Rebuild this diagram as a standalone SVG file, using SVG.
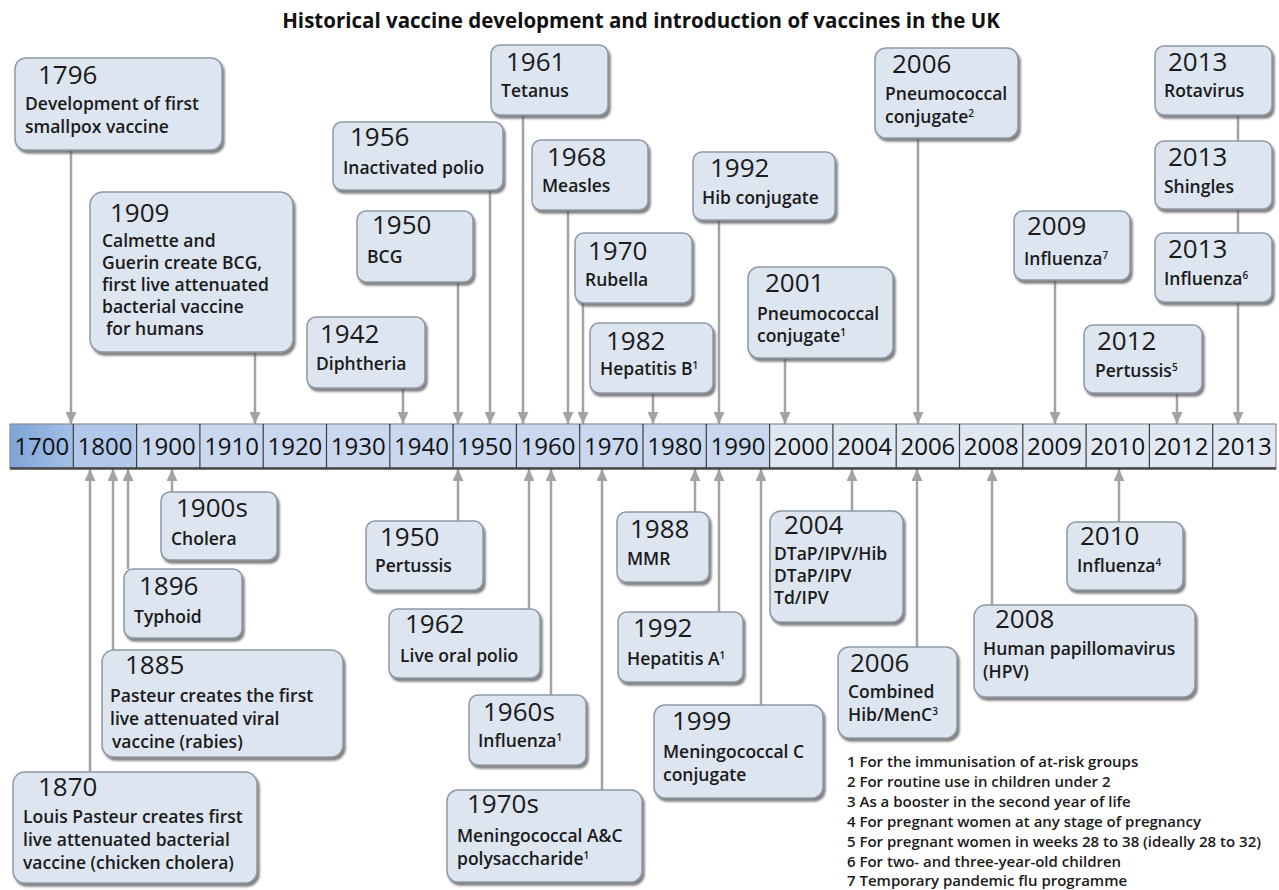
<svg xmlns="http://www.w3.org/2000/svg" width="1279" height="890" viewBox="0 0 1279 890">
<defs>
<filter id="sh" x="-10%" y="-10%" width="125%" height="130%">
<feDropShadow dx="2" dy="3" stdDeviation="1.2" flood-color="#555" flood-opacity="0.75"/>
</filter>
<marker id="ah" markerUnits="userSpaceOnUse" viewBox="0 0 12 11" markerWidth="12" markerHeight="11" refX="12" refY="5.5" orient="auto">
<path d="M0,0 L12,5.5 L0,11 z" fill="#a3a3a3"/>
</marker>
<linearGradient id="g1700" x1="0" y1="0" x2="1" y2="0">
<stop offset="0" stop-color="#7ea5d8"/>
<stop offset="1" stop-color="#a2bfe6"/>
</linearGradient>
</defs>
<style>
.bx{fill:#dde5f0;stroke:#8f98a6;stroke-width:1.5;filter:url(#sh)}
.yr{font-family:"Open Sans","Liberation Sans",sans-serif;font-size:26px;font-weight:400;fill:#1a1a1a}
.tx{font-family:"Open Sans","Liberation Sans",sans-serif;font-size:17.5px;font-weight:600;fill:#1a1a1a}
.sup{font-size:10px}
.title{font-family:"Open Sans","Liberation Sans",sans-serif;font-size:20.5px;font-weight:700;fill:#111}
.lg{font-family:"Open Sans","Liberation Sans",sans-serif;font-size:15px;font-weight:600;fill:#1a1a1a}
.cl{font-family:"Open Sans","Liberation Sans",sans-serif;font-size:24px;font-weight:400;fill:#111;text-anchor:middle}
.conn line{stroke:#a3a3a3;stroke-width:2.5}
.conn .a{marker-end:url(#ah)}
.c0{fill:url(#g1700)}
.c1{fill:#b1c8ea}
.c2{fill:#c9d7ef}
.c3{fill:#dfe7f3}
.dv{stroke:#3c3c3c;stroke-width:1.2}
</style>
<rect width="1279" height="890" fill="#ffffff"/>
<text class="title" x="641" y="28" text-anchor="middle">Historical vaccine development and introduction of vaccines in the UK</text>

<g id="connectors" class="conn">
<line class="a" x1="71" y1="150" x2="71" y2="424"/>
<line class="a" x1="255" y1="352" x2="255" y2="424"/>
<line class="a" x1="403" y1="388" x2="403" y2="424"/>
<line class="a" x1="458" y1="282" x2="458" y2="424"/>
<line class="a" x1="490" y1="190" x2="490" y2="424"/>
<line class="a" x1="523" y1="115" x2="523" y2="424"/>
<line class="a" x1="568" y1="210" x2="568" y2="424"/>
<line class="a" x1="583" y1="303" x2="583" y2="424"/>
<line class="a" x1="653" y1="393" x2="653" y2="424"/>
<line class="a" x1="719" y1="220" x2="719" y2="424"/>
<line class="a" x1="785" y1="358" x2="785" y2="424"/>
<line class="a" x1="918" y1="138" x2="918" y2="424"/>
<line class="a" x1="1055" y1="280" x2="1055" y2="424"/>
<line class="a" x1="1177" y1="393" x2="1177" y2="424"/>
<line x1="1238" y1="115" x2="1238" y2="141"/>
<line x1="1238" y1="209" x2="1238" y2="233"/>
<line class="a" x1="1238" y1="302" x2="1238" y2="424"/>
<line class="a" x1="90" y1="772" x2="90" y2="469"/>
<line class="a" x1="113" y1="650" x2="113" y2="469"/>
<line class="a" x1="128" y1="569" x2="128" y2="469"/>
<line class="a" x1="172" y1="492" x2="172" y2="469"/>
<line class="a" x1="458" y1="521" x2="458" y2="469"/>
<line class="a" x1="529" y1="609" x2="529" y2="469"/>
<line class="a" x1="551" y1="695" x2="551" y2="469"/>
<line class="a" x1="602" y1="790" x2="602" y2="469"/>
<line class="a" x1="695" y1="512" x2="695" y2="469"/>
<line class="a" x1="719" y1="612" x2="719" y2="469"/>
<line class="a" x1="761" y1="705" x2="761" y2="469"/>
<line class="a" x1="852" y1="511" x2="852" y2="469"/>
<line class="a" x1="917" y1="647" x2="917" y2="469"/>
<line class="a" x1="992" y1="605" x2="992" y2="469"/>
<line class="a" x1="1119" y1="522" x2="1119" y2="469"/>
</g>

<g id="timeline">
<rect class="c0" x="10" y="424" width="63.3" height="44"/>
<rect class="c1" x="73.3" y="424" width="63.3" height="44"/>
<rect class="c2" x="136.6" y="424" width="633" height="44"/>
<rect class="c3" x="769.6" y="424" width="506.4" height="44"/>
<rect x="10" y="424" width="1266" height="44" fill="none" stroke="#8c8c8c" stroke-width="1.2"/>
<line x1="10" y1="468.5" x2="1276" y2="468.5" stroke="#474747" stroke-width="2.5"/>
<g class="dv">
<line x1="73.3" y1="424" x2="73.3" y2="468"/>
<line x1="136.6" y1="424" x2="136.6" y2="468"/>
<line x1="199.9" y1="424" x2="199.9" y2="468"/>
<line x1="263.2" y1="424" x2="263.2" y2="468"/>
<line x1="326.5" y1="424" x2="326.5" y2="468"/>
<line x1="389.8" y1="424" x2="389.8" y2="468"/>
<line x1="453.1" y1="424" x2="453.1" y2="468"/>
<line x1="516.4" y1="424" x2="516.4" y2="468"/>
<line x1="579.7" y1="424" x2="579.7" y2="468"/>
<line x1="643" y1="424" x2="643" y2="468"/>
<line x1="706.3" y1="424" x2="706.3" y2="468"/>
<line x1="769.6" y1="424" x2="769.6" y2="468"/>
<line x1="832.9" y1="424" x2="832.9" y2="468"/>
<line x1="896.2" y1="424" x2="896.2" y2="468"/>
<line x1="959.5" y1="424" x2="959.5" y2="468"/>
<line x1="1022.8" y1="424" x2="1022.8" y2="468"/>
<line x1="1086.1" y1="424" x2="1086.1" y2="468"/>
<line x1="1149.4" y1="424" x2="1149.4" y2="468"/>
<line x1="1212.7" y1="424" x2="1212.7" y2="468"/>
</g>
<text class="cl" x="41.7" y="455">1700</text>
<text class="cl" x="105" y="455">1800</text>
<text class="cl" x="168.3" y="455">1900</text>
<text class="cl" x="231.6" y="455">1910</text>
<text class="cl" x="294.9" y="455">1920</text>
<text class="cl" x="358.2" y="455">1930</text>
<text class="cl" x="421.5" y="455">1940</text>
<text class="cl" x="484.8" y="455">1950</text>
<text class="cl" x="548.1" y="455">1960</text>
<text class="cl" x="611.4" y="455">1970</text>
<text class="cl" x="674.7" y="455">1980</text>
<text class="cl" x="738" y="455">1990</text>
<text class="cl" x="801.3" y="455">2000</text>
<text class="cl" x="864.6" y="455">2004</text>
<text class="cl" x="927.9" y="455">2006</text>
<text class="cl" x="991.2" y="455">2008</text>
<text class="cl" x="1054.5" y="455">2009</text>
<text class="cl" x="1117.8" y="455">2010</text>
<text class="cl" x="1181.1" y="455">2012</text>
<text class="cl" x="1244.4" y="455">2013</text>
</g>

<g id="n1796"><rect class="bx" x="15" y="58" width="207" height="92" rx="11"/><text class="yr" x="38" y="84">1796</text><text class="tx" x="25" y="110">Development of first</text><text class="tx" x="25" y="133">smallpox vaccine</text></g>
<g id="n1909"><rect class="bx" x="90" y="192" width="203" height="160" rx="13"/><text class="yr" x="110" y="222">1909</text><text class="tx" x="102" y="247">Calmette and</text><text class="tx" x="102" y="269">Guerin create BCG,</text><text class="tx" x="102" y="291">first live attenuated</text><text class="tx" x="102" y="313">bacterial vaccine</text><text class="tx" x="106" y="335">for humans</text></g>
<g id="n1942"><rect class="bx" x="307" y="317" width="118" height="71" rx="9"/><text class="yr" x="320" y="343">1942</text><text class="tx" x="316" y="370">Diphtheria</text></g>
<g id="n1950bcg"><rect class="bx" x="357" y="211" width="116" height="71" rx="9"/><text class="yr" x="372" y="234">1950</text><text class="tx" x="367" y="263">BCG</text></g>
<g id="n1956"><rect class="bx" x="333" y="122" width="170" height="68" rx="9"/><text class="yr" x="350" y="146">1956</text><text class="tx" x="343" y="174">Inactivated polio</text></g>
<g id="n1961"><rect class="bx" x="491" y="45" width="117" height="70" rx="9"/><text class="yr" x="506" y="71">1961</text><text class="tx" x="501" y="97">Tetanus</text></g>
<g id="n1968"><rect class="bx" x="532" y="140" width="116" height="70" rx="9"/><text class="yr" x="547" y="166">1968</text><text class="tx" x="542" y="192">Measles</text></g>
<g id="n1970"><rect class="bx" x="575" y="233" width="117" height="70" rx="9"/><text class="yr" x="588" y="260">1970</text><text class="tx" x="585" y="286">Rubella</text></g>
<g id="n1982"><rect class="bx" x="590" y="323" width="123" height="70" rx="9"/><text class="yr" x="606" y="350">1982</text><text class="tx" x="600" y="375">Hepatitis B<tspan class="sup" dy="-6">1</tspan></text></g>
<g id="n1992hib"><rect class="bx" x="693" y="152" width="142" height="68" rx="9"/><text class="yr" x="710" y="177">1992</text><text class="tx" x="702" y="204">Hib conjugate</text></g>
<g id="n2001"><rect class="bx" x="748" y="267" width="145" height="91" rx="11"/><text class="yr" x="765" y="292">2001</text><text class="tx" x="757" y="320">Pneumococcal</text><text class="tx" x="757" y="342">conjugate<tspan class="sup" dy="-6">1</tspan></text></g>
<g id="n2006pcv"><rect class="bx" x="875" y="48" width="143" height="90" rx="11"/><text class="yr" x="892" y="73">2006</text><text class="tx" x="885" y="100">Pneumococcal</text><text class="tx" x="885" y="123">conjugate<tspan class="sup" dy="-6">2</tspan></text></g>
<g id="n2013rota"><rect class="bx" x="1155" y="46" width="117" height="69" rx="9"/><text class="yr" x="1168" y="71">2013</text><text class="tx" x="1164" y="97">Rotavirus</text></g>
<g id="n2013shingles"><rect class="bx" x="1155" y="141" width="117" height="68" rx="9"/><text class="yr" x="1168" y="166">2013</text><text class="tx" x="1164" y="193">Shingles</text></g>
<g id="n2013flu"><rect class="bx" x="1155" y="233" width="117" height="69" rx="9"/><text class="yr" x="1168" y="258">2013</text><text class="tx" x="1164" y="285">Influenza<tspan class="sup" dy="-6">6</tspan></text></g>
<g id="n2009"><rect class="bx" x="1014" y="211" width="116" height="69" rx="9"/><text class="yr" x="1027" y="235">2009</text><text class="tx" x="1024" y="265">Influenza<tspan class="sup" dy="-6">7</tspan></text></g>
<g id="n2012"><rect class="bx" x="1084" y="325" width="118" height="68" rx="9"/><text class="yr" x="1097" y="350">2012</text><text class="tx" x="1095" y="377">Pertussis<tspan class="sup" dy="-6">5</tspan></text></g>

<g id="n1900s"><rect class="bx" x="161" y="492" width="116" height="68" rx="9"/><text class="yr" x="176" y="517">1900s</text><text class="tx" x="171" y="545">Cholera</text></g>
<g id="n1896"><rect class="bx" x="124" y="569" width="118" height="69" rx="9"/><text class="yr" x="139" y="595">1896</text><text class="tx" x="134" y="623">Typhoid</text></g>
<g id="n1885"><rect class="bx" x="102" y="650" width="241" height="107" rx="12"/><text class="yr" x="125" y="674">1885</text><text class="tx" x="110" y="702">Pasteur creates the first</text><text class="tx" x="110" y="725">live attenuated viral</text><text class="tx" x="112" y="748">vaccine (rabies)</text></g>
<g id="n1870"><rect class="bx" x="13" y="772" width="244" height="111" rx="12"/><text class="yr" x="38" y="796">1870</text><text class="tx" x="23" y="823">Louis Pasteur creates first</text><text class="tx" x="23" y="846">live attenuated bacterial</text><text class="tx" x="23" y="869">vaccine (chicken cholera)</text></g>
<g id="n1950pert"><rect class="bx" x="366" y="521" width="117" height="69" rx="9"/><text class="yr" x="380" y="546">1950</text><text class="tx" x="375" y="572">Pertussis</text></g>
<g id="n1962"><rect class="bx" x="389" y="609" width="151" height="69" rx="9"/><text class="yr" x="405" y="633">1962</text><text class="tx" x="400" y="662">Live oral polio</text></g>
<g id="n1960s"><rect class="bx" x="469" y="695" width="117" height="70" rx="9"/><text class="yr" x="483" y="721">1960s</text><text class="tx" x="478" y="747">Influenza<tspan class="sup" dy="-6">1</tspan></text></g>
<g id="n1970s"><rect class="bx" x="447" y="790" width="195" height="92" rx="11"/><text class="yr" x="467" y="813">1970s</text><text class="tx" x="457" y="842">Meningococcal A&amp;C</text><text class="tx" x="457" y="865">polysaccharide<tspan class="sup" dy="-6">1</tspan></text></g>
<g id="n1988"><rect class="bx" x="617" y="512" width="92" height="70" rx="9"/><text class="yr" x="630" y="538">1988</text><text class="tx" x="627" y="565">MMR</text></g>
<g id="n1992hepa"><rect class="bx" x="618" y="612" width="125" height="70" rx="9"/><text class="yr" x="633" y="637">1992</text><text class="tx" x="627" y="665">Hepatitis A<tspan class="sup" dy="-6">1</tspan></text></g>
<g id="n1999"><rect class="bx" x="654" y="705" width="169" height="93" rx="11"/><text class="yr" x="672" y="730">1999</text><text class="tx" x="663" y="758">Meningococcal C</text><text class="tx" x="663" y="781">conjugate</text></g>
<g id="n2004"><rect class="bx" x="770" y="511" width="133" height="111" rx="11"/><text class="yr" x="784" y="534">2004</text><text class="tx" x="774" y="560">DTaP/IPV/Hib</text><text class="tx" x="774" y="582">DTaP/IPV</text><text class="tx" x="774" y="604">Td/IPV</text></g>
<g id="n2006men"><rect class="bx" x="838" y="647" width="119" height="91" rx="11"/><text class="yr" x="850" y="672">2006</text><text class="tx" x="848" y="698">Combined</text><text class="tx" x="848" y="721">Hib/MenC<tspan class="sup" dy="-6">3</tspan></text></g>
<g id="n2008"><rect class="bx" x="974" y="605" width="221" height="92" rx="12"/><text class="yr" x="995" y="628">2008</text><text class="tx" x="983" y="655">Human papillomavirus</text><text class="tx" x="983" y="678">(HPV)</text></g>
<g id="n2010"><rect class="bx" x="1067" y="522" width="116" height="68" rx="9"/><text class="yr" x="1080" y="545">2010</text><text class="tx" x="1077" y="572">Influenza<tspan class="sup" dy="-6">4</tspan></text></g>

<g id="legend">
<text class="lg" x="847" y="767">1 For the immunisation of at-risk groups</text>
<text class="lg" x="847" y="787">2 For routine use in children under 2</text>
<text class="lg" x="847" y="807">3 As a booster in the second year of life</text>
<text class="lg" x="847" y="827">4 For pregnant women at any stage of pregnancy</text>
<text class="lg" x="847" y="847">5 For pregnant women in weeks 28 to 38 (ideally 28 to 32)</text>
<text class="lg" x="847" y="867">6 For two- and three-year-old children</text>
<text class="lg" x="847" y="886">7 Temporary pandemic flu programme</text>
</g>
</svg>
